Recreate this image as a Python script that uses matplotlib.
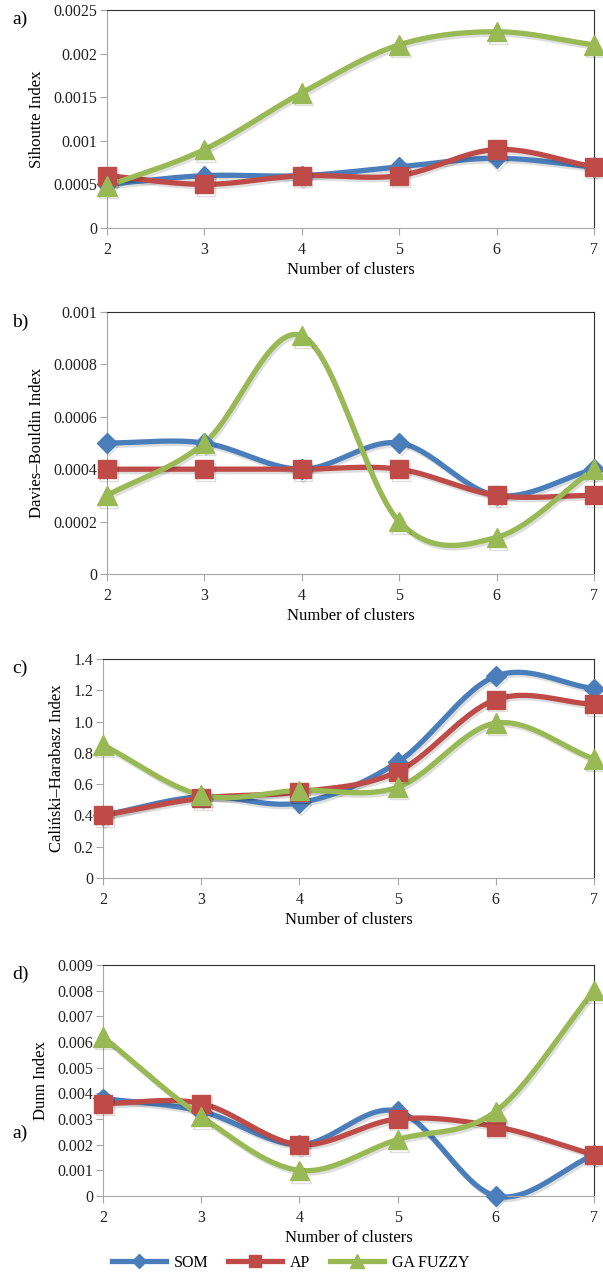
import matplotlib
matplotlib.use("Agg")
import matplotlib.pyplot as plt
import matplotlib.patheffects as pe
import numpy as np

# data
clusters = [2, 3, 4, 5, 6, 7]
series_names = ["SOM", "AP", "GA FUZZY"]

sil_som = [0.0005, 0.0006, 0.0006, 0.0007, 0.0008, 0.0007]
sil_ap = [0.0006, 0.0005, 0.0006, 0.0006, 0.0009, 0.0007]
sil_ga = [0.00048, 0.0009, 0.00155, 0.0021, 0.00225, 0.0021]

db_som = [0.0005, 0.0005, 0.0004, 0.0005, 0.0003, 0.0004]
db_ap = [0.0004, 0.0004, 0.0004, 0.0004, 0.0003, 0.0003]
db_ga = [0.0003, 0.0005, 0.00091, 0.0002, 0.00014, 0.0004]

ch_som = [0.40, 0.52, 0.48, 0.74, 1.29, 1.21]
ch_ap = [0.40, 0.51, 0.55, 0.68, 1.14, 1.11]
ch_ga = [0.85, 0.53, 0.56, 0.58, 0.99, 0.76]

dunn_som = [0.0038, 0.0033, 0.0020, 0.0033, 0.0000, 0.0016]
dunn_ap = [0.0036, 0.0036, 0.0020, 0.0030, 0.0027, 0.0016]
dunn_ga = [0.0062, 0.0031, 0.0010, 0.0022, 0.0033, 0.0080]

sil_ticks = [0, 0.0005, 0.001, 0.0015, 0.002, 0.0025]
sil_labels = ["0", "0.0005", "0.001", "0.0015", "0.002", "0.0025"]
db_ticks = [0, 0.0002, 0.0004, 0.0006, 0.0008, 0.001]
db_labels = ["0", "0.0002", "0.0004", "0.0006", "0.0008", "0.001"]
ch_ticks = [0, 0.2, 0.4, 0.6, 0.8, 1.0, 1.2, 1.4]
ch_labels = ["0", "0.2", "0.4", "0.6", "0.8", "1.0", "1.2", "1.4"]
dunn_ticks = [0, 0.001, 0.002, 0.003, 0.004, 0.005, 0.006, 0.007, 0.008, 0.009]
dunn_labels = ["0", "0.001", "0.002", "0.003", "0.004", "0.005", "0.006",
               "0.007", "0.008", "0.009"]

colors = ["#4a7ebb", "#be4b48", "#98b954"]
markers = ["D", "s", "^"]
msizes = [10, 13, 14]

plt.rcParams["font.family"] = ["Liberation Serif", "DejaVu Serif"]
plt.rcParams["font.size"] = 11.5


def smooth(x, y, n=30, t=0.5):
    # catmull-rom style curve through the points (like Excel's smoothed line)
    x = np.asarray(x, float)
    y = np.asarray(y, float)
    px = np.concatenate([[2 * x[0] - x[1]], x, [2 * x[-1] - x[-2]]])
    py = np.concatenate([[2 * y[0] - y[1]], y, [2 * y[-1] - y[-2]]])
    xs, ys = [], []
    s = np.linspace(0, 1, n)
    for i in range(1, len(px) - 2):
        p0, p1, p2, p3 = (np.array([px[j], py[j]]) for j in range(i - 1, i + 3))
        m1 = t * (p2 - p0)
        m2 = t * (p3 - p1)
        h00 = 2 * s**3 - 3 * s**2 + 1
        h10 = s**3 - 2 * s**2 + s
        h01 = -2 * s**3 + 3 * s**2
        h11 = s**3 - s**2
        pts = (np.outer(h00, p1) + np.outer(h10, m1)
               + np.outer(h01, p2) + np.outer(h11, m2))
        xs.extend(pts[:, 0])
        ys.extend(pts[:, 1])
    return xs, ys


shadow = [pe.SimpleLineShadow(offset=(1.2, -1.8), alpha=0.13), pe.Normal()]

fig = plt.figure(figsize=(6.03, 12.75), dpi=100)

panels = [
    ([0.1774, 0.8212, 0.8076, 0.1710], [sil_som, sil_ap, sil_ga],
     "Sihoutte Index", sil_ticks, sil_labels, "a)", 0.9845),
    ([0.1774, 0.5498, 0.8076, 0.2055], [db_som, db_ap, db_ga],
     "Davies–Bouldin Index", db_ticks, db_labels, "b)", 0.7475),
    ([0.1708, 0.3114, 0.8143, 0.1718], [ch_som, ch_ap, ch_ga],
     "Caliński–Harabasz Index", ch_ticks, ch_labels, "c)", 0.4760),
    ([0.1708, 0.0620, 0.8143, 0.1812], [dunn_som, dunn_ap, dunn_ga],
     "Dunn Index", dunn_ticks, dunn_labels, "d)", 0.2355),
]

handles = []
for rect, data, ylab, yt, ytl, tag, ty in panels:
    ax = fig.add_axes(rect)
    for k, vals in enumerate(data):
        sx, sy = smooth(clusters, vals)
        ax.plot(sx, sy, color=colors[k], lw=3.8, solid_capstyle="round",
                clip_on=False, zorder=2 + k, path_effects=shadow)
        ax.plot(clusters, vals, ls="none", marker=markers[k],
                ms=msizes[k], color=colors[k], clip_on=False,
                zorder=5 + k, path_effects=shadow)
        if len(handles) < 3:
            handles.append(ax.plot([], [], color=colors[k], lw=3.8,
                                   marker=markers[k], ms=msizes[k])[0])
    ax.set_xlim(2, 7)
    ax.set_ylim(yt[0], yt[-1])
    ax.set_xticks(clusters)
    ax.set_yticks(yt)
    ax.set_yticklabels(ytl)
    ax.set_xlabel("Number of clusters", fontsize=12, labelpad=3)
    ax.set_ylabel(ylab, fontsize=12, labelpad=6)
    for side in ["left", "bottom"]:
        ax.spines[side].set_color("#a6a6a6")
    for side in ["top", "right"]:
        ax.spines[side].set_color("#303030")
    ax.tick_params(colors="#a6a6a6", labelcolor="#222222", length=5,
                   width=0.8)
    ax.tick_params(axis="x", pad=5)
    ax.tick_params(axis="y", pad=2)
    fig.text(0.02, ty, tag, fontsize=14, va="center")

# stray panel tag in the original figure
fig.text(0.02, 0.111, "a)", fontsize=14, va="center")

fig.legend(handles, series_names, loc="center", bbox_to_anchor=(0.482, 0.0095),
           ncol=3, frameon=False, handlelength=3.4, columnspacing=1.2,
           handletextpad=0.5, markerscale=0.7, fontsize=11.5)

fig.savefig("out.png", dpi=100)
